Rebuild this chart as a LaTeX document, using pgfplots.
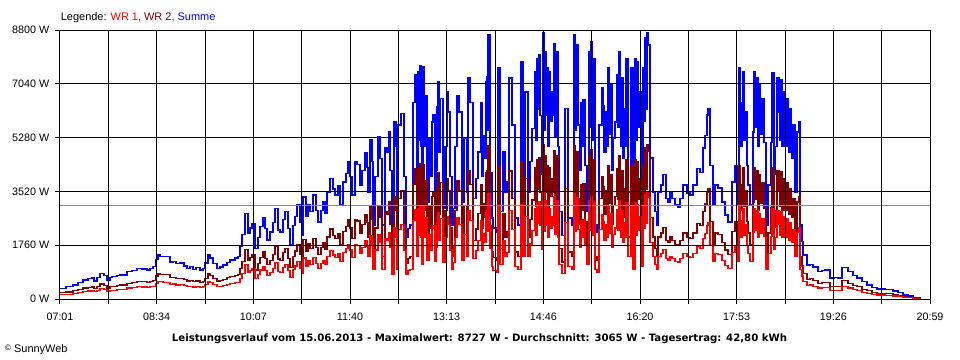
\documentclass[border=0pt]{standalone}
\usepackage{pgfplots}
\usepackage{pgfplotstable}
\pgfplotsset{compat=1.18}
\usepackage{fontspec}
\setmainfont{Liberation Sans}
\newfontfamily\dejavu{DejaVu Sans}
\definecolor{wrone}{RGB}{255,0,0}
\definecolor{wrtwo}{RGB}{128,0,0}
\definecolor{summe}{RGB}{0,0,255}
\definecolor{avg}{RGB}{140,140,140}
\pgfplotstableread{
t s a b
421.0 350 140 200
426.8 400 160 230
433.5 460 180 270
438.3 540 220 310
443.1 620 250 360
448.0 660 260 380
451.8 690 280 400
453.7 590 240 340
456.6 700 280 410
459.5 840 340 490
463.4 760 300 440
466.3 620 250 360
469.2 700 280 410
471.1 730 290 420
475.9 760 300 440
478.8 785 310 460
485.5 900 360 520
490.3 940 380 550
495.2 1000 400 580
500.0 980 390 570
504.8 950 380 550
507.7 1000 400 580
510.6 1060 420 610
513.5 1300 520 750
515.4 1440 580 840
517.3 1400 560 810
520.2 1380 550 800
524.1 1380 550 800
526.9 1210 480 700
529.8 1220 490 710
532.7 1150 460 670
536.6 1180 470 680
540.4 1080 430 630
543.3 1010 400 590
546.2 1060 420 610
549.1 970 390 560
552.0 1020 410 590
555.8 950 380 550
558.7 1000 400 580
560.7 1180 470 680
563.5 1440 580 840
565.5 1340 540 780
568.4 1170 470 680
572.2 1010 400 590
575.1 1050 420 610
578.0 1110 440 640
581.8 1200 480 700
584.7 1275 510 740
589.6 1340 540 780
592.4 1380 550 800
594.4 1710 680 990
596.3 2100 840 1220
599.2 2810 1120 1630
602.1 2150 860 1250
604.0 2320 930 1350
605.9 2480 990 1440
608.8 1640 660 950
611.7 2000 800 1160
613.6 2370 950 1370
616.5 2650 1060 1540
618.4 2300 920 1330
620.4 1930 770 1120
623.3 2190 880 1270
626.2 2500 1000 1450
628.1 2970 1190 1720
631.0 2260 900 1310
632.9 2190 880 1270
635.8 2600 1040 1510
637.7 2850 1140 1650
640.6 2300 920 1330
642.5 1770 710 1030
645.4 2400 960 1390
647.3 2700 1080 1570
649.3 3080 1230 1790
652.2 2500 1000 1450
654.1 2090 840 1210
655.1 3340 1340 1940
657.9 2700 1080 1570
659.9 3100 1240 1800
661.8 2850 1140 1650
664.7 3400 1360 1970
667.6 2900 1160 1680
669.5 2520 1010 1460
672.4 2900 1160 1680
674.3 3170 1270 1840
676.2 2800 1120 1620
678.2 3500 1400 2030
681.1 3950 1580 2290
683.9 3600 1440 2090
685.9 3400 1360 1970
688.8 3700 1480 2150
690.7 3080 1230 1790
693.6 3830 1530 2220
696.5 4100 1640 2380
698.4 4480 1790 2600
700.3 4000 1600 2320
702.2 3400 1360 1970
705.1 4480 1790 2600
707.1 4400 1760 2550
710.0 3730 1490 2160
711.9 4200 1680 2440
714.8 4780 1910 2770
716.7 4300 1720 2490
717.7 3500 1400 2030
719.6 5200 2080 3020
721.5 4500 1800 2610
722.5 2420 970 1400
724.4 4000 1600 2320
727.3 5300 2120 3070
729.2 4600 1840 2670
731.1 2420 970 1400
734.0 4940 1980 2870
736.0 4800 1920 2780
737.9 5460 2180 3170
738.9 4200 1680 2440
740.8 2000 800 1160
742.7 5790 2320 3360
744.6 5000 2000 2900
745.6 2420 970 1400
746.6 5690 2280 3300
749.4 6080 2430 3530
751.4 6080 2430 3530
752.3 4000 1600 2320
754.3 2000 800 1160
756.2 2300 920 1330
758.1 2420 970 1400
761.0 6440 2580 3740
762.9 7330 2930 4250
764.0 5000 2000 2900
764.9 3500 1400 2030
765.8 7430 2970 4310
766.8 5200 2080 3020
767.7 7650 3060 4440
768.7 5000 2000 2900
769.7 2850 1140 1650
770.6 7590 3040 4400
771.6 5000 2000 2900
772.6 6670 2670 3870
774.5 3170 1270 1840
776.4 5260 2100 3050
778.3 4000 1600 2320
779.3 5790 2320 3360
780.3 6020 2410 3490
782.2 3080 1230 1790
783.1 4200 1680 2440
784.1 6280 2510 3640
785.1 7100 2840 4120
786.0 4800 1920 2780
787.0 6570 2630 3810
789.9 2970 1190 1720
791.8 5000 2000 2900
793.8 6770 2710 3930
794.7 6120 2450 3550
796.6 4000 1600 2320
798.6 2420 970 1400
799.5 2970 1190 1720
801.5 5000 2000 2900
803.4 6670 2670 3870
805.3 6120 2450 3550
808.2 3170 1270 1840
810.1 5260 2100 3050
813.0 3500 1400 2030
814.0 7230 2890 4190
815.9 6440 2580 3740
818.8 3300 1320 1910
821.7 3950 1580 2290
823.6 4810 1920 2790
826.5 6440 2580 3740
827.4 4000 1600 2320
828.4 5360 2140 3110
829.9 4600 1840 2670
831.3 7100 2840 4120
832.3 7260 2900 4210
832.8 5500 2200 3190
833.2 8640 3460 5010
835.2 4150 1660 2410
837.1 2650 1060 1540
838.1 2320 930 1350
841.0 2190 880 1270
842.9 7560 3020 4380
844.8 2850 1140 1650
847.7 4810 1920 2790
849.6 3500 1400 2030
851.5 3830 1530 2220
853.5 7230 2890 4190
856.4 5690 2280 3300
859.3 2650 1060 1540
862.1 2420 970 1400
865.0 7750 3100 4500
867.0 3500 1400 2030
868.9 6770 2710 3930
871.8 3500 1400 2030
873.7 4500 1800 2610
875.6 5590 2240 3240
878.5 7430 2970 4310
879.4 5200 2080 3020
880.4 7880 3150 4570
881.4 6200 2480 3600
882.4 7980 3190 4630
883.3 6000 2400 3480
885.3 4060 1620 2350
886.2 8700 3480 5050
887.2 5500 2200 3190
888.1 8080 3230 4690
889.1 6000 2400 3480
890.1 7560 3020 4380
891.0 5000 2000 2900
892.0 7430 2970 4310
893.4 5800 2320 3360
894.9 6770 2710 3930
895.9 6000 2400 3480
896.8 8370 3350 4850
897.7 5300 2120 3070
898.7 8080 3230 4690
900.7 5000 2000 2900
901.6 2850 1140 1650
904.5 2090 840 1210
907.4 6240 2500 3620
910.3 2650 1060 1540
914.2 2420 970 1400
916.1 8640 3460 5010
917.0 5500 2200 3190
918.0 8310 3320 4820
919.9 5690 2280 3300
921.8 4200 1680 2440
922.8 6440 2580 3740
923.8 5000 2000 2900
924.8 6510 2600 3780
926.7 4380 1750 2540
928.6 2850 1140 1650
930.5 8080 3230 4690
931.5 5600 2240 3250
932.5 8410 3360 4880
933.4 5200 2080 3020
934.4 7880 3150 4570
936.3 2420 970 1400
938.2 2190 880 1270
940.2 5690 2280 3300
943.1 6900 2760 4000
944.0 6340 2540 3680
945.0 4800 1920 2780
946.9 6120 2450 3550
947.9 5000 2000 2900
948.8 7560 3020 4380
950.2 5400 2160 3130
951.7 7000 2800 4060
952.6 4200 1680 2440
953.6 5260 2100 3050
955.6 5790 2320 3360
957.5 7330 2930 4250
958.5 5600 2240 3250
959.4 8080 3230 4690
960.9 5000 2000 2900
962.3 7230 2890 4190
963.2 4600 1840 2670
964.2 6240 2500 3620
965.2 5000 2000 2900
966.2 7880 3150 4570
968.1 3500 1400 2030
971.0 7560 3020 4380
972.9 2420 970 1400
974.8 7880 3150 4570
975.8 5200 2080 3020
976.8 7750 3100 4500
977.7 5600 2240 3250
978.7 6770 2710 3930
980.6 2650 1060 1540
982.5 7560 3020 4380
983.5 5800 2320 3360
984.5 8540 3420 4950
985.5 6200 2480 3600
986.4 8700 3480 5050
987.4 8310 3320 4820
989.3 4610 1840 2670
992.2 3500 1400 2030
994.1 2850 1140 1650
996.0 2420 970 1400
997.0 3500 1400 2030
999.9 3730 1490 2160
1001.8 4060 1620 2350
1004.7 3300 1320 1910
1006.6 3170 1270 1840
1008.5 3500 1400 2030
1010.5 3300 1320 1910
1013.4 3080 1230 1790
1016.3 3010 1200 1750
1018.2 3300 1320 1910
1021.1 3730 1490 2160
1024.9 3470 1390 2010
1027.8 3400 1360 1970
1030.7 3730 1490 2160
1034.6 4280 1710 2480
1037.4 4150 1660 2410
1040.3 4940 1980 2870
1042.3 5360 2140 3110
1044.2 6020 2410 3490
1045.2 6240 2500 3620
1047.1 4380 1750 2540
1050.0 3080 1230 1790
1051.9 3730 1490 2160
1054.8 3630 1450 2110
1058.6 3170 1270 1840
1061.5 2750 1100 1600
1064.4 2520 1010 1460
1068.3 3830 1530 2220
1071.2 4380 1750 2540
1073.1 3080 1230 1790
1075.0 7560 3020 4380
1076.5 5000 2000 2900
1077.9 6440 2580 3740
1078.9 7430 2970 4310
1079.9 5200 2080 3020
1080.8 6120 2450 3550
1082.7 4380 1750 2540
1083.7 3730 1490 2160
1085.6 3080 1230 1790
1088.5 5460 2180 3170
1089.5 7430 2970 4310
1090.9 5600 2240 3250
1092.3 7230 2890 4190
1093.3 5000 2000 2900
1094.3 7000 2800 4060
1095.7 5400 2160 3130
1097.2 6570 2630 3810
1099.1 5130 2050 2980
1101.0 2420 970 1400
1102.9 3730 1490 2160
1105.8 5130 2050 2980
1106.8 7400 2960 4290
1108.7 4060 1620 2350
1110.1 5000 2000 2900
1111.6 7230 2890 4190
1113.5 6120 2450 3550
1114.5 5200 2080 3020
1115.5 7170 2870 4160
1116.4 5000 2000 2900
1117.4 6770 2710 3930
1119.3 5000 2000 2900
1121.2 6570 2630 3810
1122.7 4800 1920 2780
1124.1 6240 2500 3620
1125.6 4600 1840 2670
1127.0 5690 2280 3300
1128.9 3500 1400 2030
1130.9 5460 2180 3170
1132.8 5790 2320 3360
1133.8 2420 970 1400
1135.7 1870 750 1080
1136.7 1440 580 840
1140.5 1110 440 640
1143.4 1140 460 660
1146.3 1050 420 610
1151.1 890 360 520
1155.0 940 380 550
1157.8 950 380 550
1162.7 690 280 400
1166.5 700 280 410
1170.4 690 280 400
1174.2 1040 420 600
1180.0 890 360 520
1184.8 780 310 450
1188.7 690 280 400
1193.5 560 220 320
1198.3 460 180 270
1203.1 380 150 220
1207.9 330 130 190
1215.6 300 120 170
1223.3 260 100 150
1228.2 200 80 120
1233.0 130 50 80
1237.8 100 40 60
1242.6 60 20 40
1246.5 30 10 20
1249.3 0 0 0
}\datatable
\begin{document}
\begin{tikzpicture}
\path[use as bounding box] (-60bp,-61bp) rectangle (900bp,299bp);
\begin{axis}[
  scale only axis,
  width=870bp, height=269bp,
  xmin=421, xmax=1259, ymin=0, ymax=8800,
  axis on top,
  axis line style={black, line width=1bp},
  xtick={421,467.56,514.11,560.67,607.22,653.78,700.33,746.89,793.44,840,886.56,933.11,979.67,1026.22,1072.78,1119.33,1165.89,1212.44,1259},
  xticklabels={07:01,,08:34,,10:07,,11:40,,13:13,,14:46,,16:20,,17:53,,19:26,,20:59},
  ytick={0,1760,3520,5280,7040,8800},
  yticklabels={0 W,1760 W,3520 W,5280 W,7040 W,8800 W},
  xtick pos=bottom, ytick pos=left,
  tick align=outside,
  major tick length=5bp,
  tick style={black, line width=1bp},
  grid=major,
  major grid style={black, line width=1bp},
  ticklabel style={font=\fontsize{10.8}{12}\selectfont, inner sep=0pt},
  xticklabel style={anchor=base, yshift=-16.5bp},
  yticklabel style={anchor=east, xshift=-5.5bp},
  every axis plot/.append style={line width=1.2bp, const plot, mark=none},
]
\addplot[summe] table[x=t, y=s] {\datatable};
\addplot[wrtwo] table[x=t, y=b] {\datatable};
\addplot[wrone] table[x=t, y=a] {\datatable};
\addplot[avg, sharp plot] coordinates {(421,3065) (1259,3065)};
\end{axis}
\node[anchor=base west, inner sep=0pt, font=\fontsize{11}{13}\selectfont] at (0.7bp,278bp)
  {Legende: \textcolor{wrone}{WR 1,} \textcolor{wrtwo}{WR 2,} \textcolor{summe}{Summe}};
\node[anchor=base, inner sep=0pt, font=\dejavu\fontsize{10.2}{12}\selectfont\bfseries] at (419.5bp,-42bp)
  {Leistungsverlauf vom 15.06.2013 - Maximalwert: 8727 W - Durchschnitt: 3065 W - Tagesertrag: 42,80 kWh};
\node[anchor=base west, inner sep=0pt, font=\fontsize{11}{13}\selectfont] at (-55bp,-53bp)
  {{\fontsize{8}{9}\selectfont\raisebox{1.5bp}{©}} SunnyWeb};
\end{tikzpicture}
\end{document}
